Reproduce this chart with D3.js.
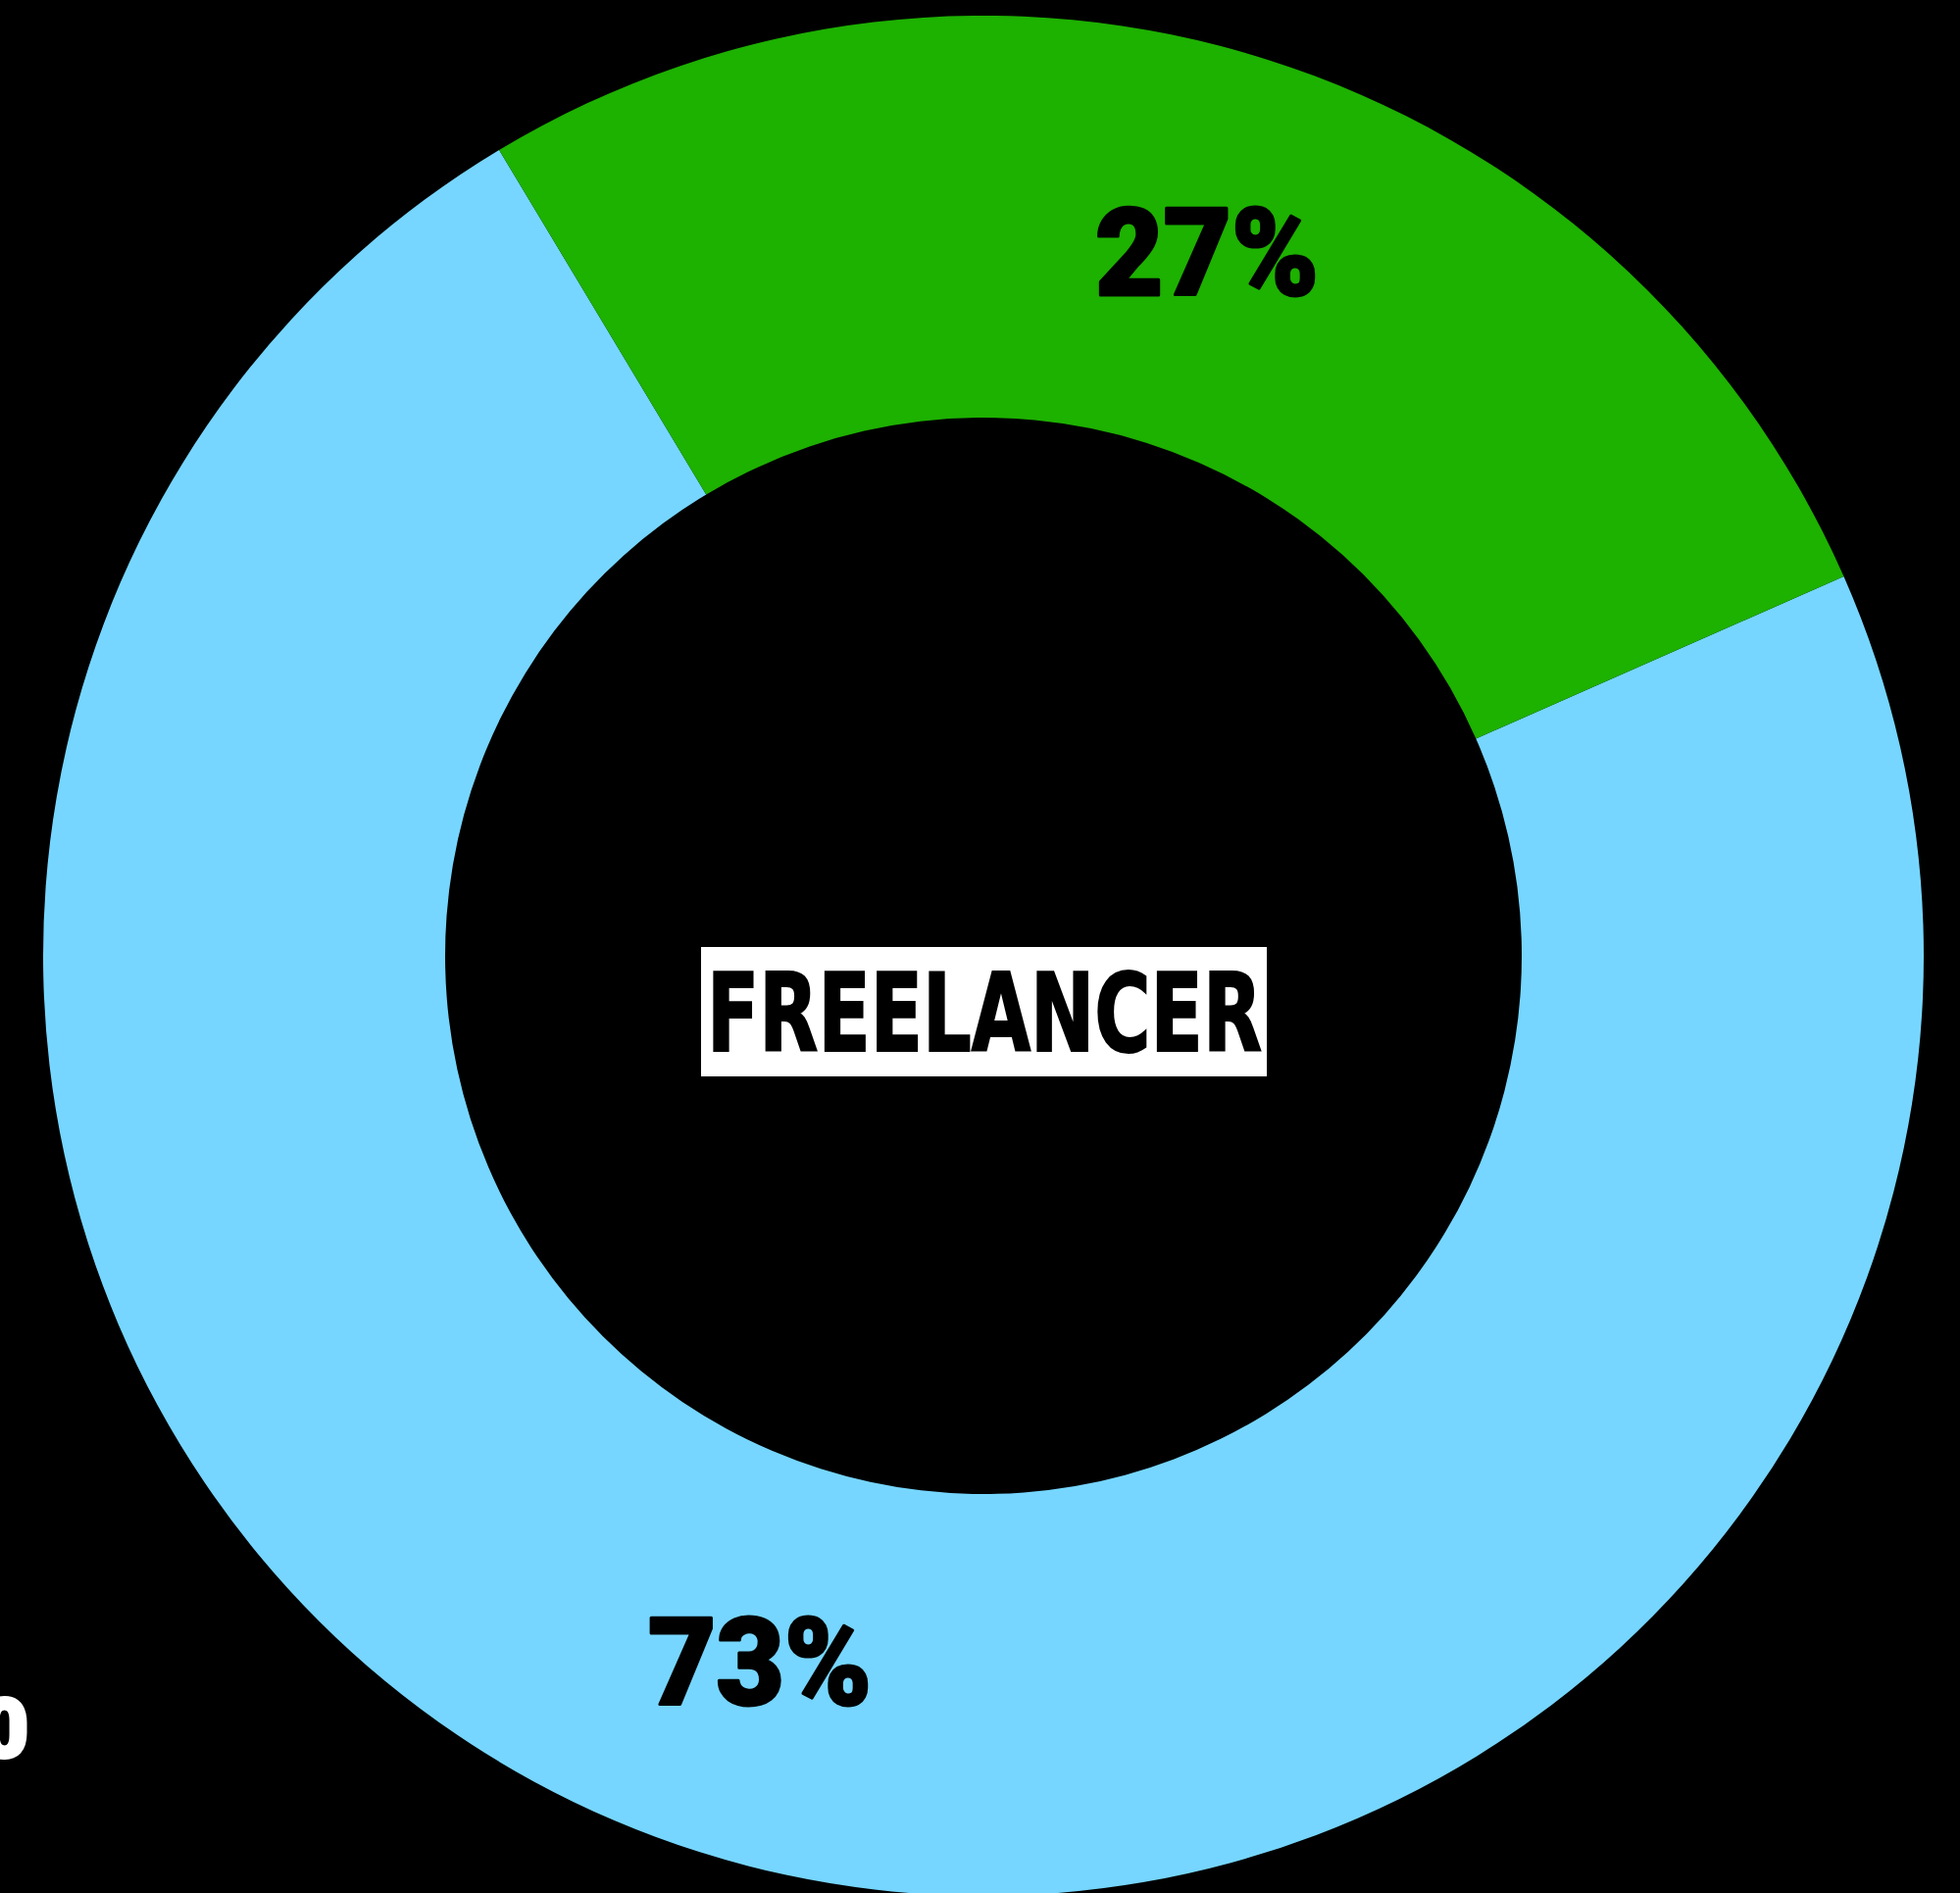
<!DOCTYPE html>
<html>
<head>
<meta charset="utf-8">
<script src="https://cdn.jsdelivr.net/npm/d3@7"></script>
<style>
  html, body { margin: 0; padding: 0; background: #000; }
  svg { display: block; }
</style>
</head>
<body>
<script>
// slices, in drawing order (clockwise from the start angle)
const slices = ["blue", "green"];
const values = [73, 27];
const labels = ["73%", "27%"];
const colors = ["#76d6ff", "#1db100"];
const title = "FREELANCER";

const width = 1999,
  height = 1931,
  cx = 1003,
  cy = 975,
  outerR = 959,
  innerR = 549;

const svg = d3.select("body").append("svg")
  .attr("width", width)
  .attr("height", height);

svg.append("rect")
  .attr("width", width)
  .attr("height", height)
  .attr("fill", "#000");

const pie = d3.pie()
  .sort(null)
  .startAngle(66.2 * Math.PI / 180)
  .endAngle(66.2 * Math.PI / 180 + 2 * Math.PI);

const arc = d3.arc().innerRadius(innerR).outerRadius(outerR);

const g = svg.append("g").attr("transform", `translate(${cx},${cy})`);

const arcs = pie(values);

g.selectAll("path")
  .data(arcs)
  .join("path")
  .attr("d", arc)
  .attr("fill", (d, i) => colors[i]);

g.selectAll("text.pct")
  .data(arcs)
  .join("text")
  .attr("class", "pct")
  .attr("x", d => arc.centroid(d)[0])
  .attr("y", d => arc.centroid(d)[1] + 45)
  .attr("text-anchor", "middle")
  .attr("font-family", "Roboto, 'DejaVu Sans', sans-serif")
  .attr("font-weight", 900)
  .attr("font-size", 124)
  .attr("textLength", 228)
  .attr("lengthAdjust", "spacingAndGlyphs")
  .attr("fill", "#000")
  .attr("stroke", "#000")
  .attr("stroke-width", 3)
  .attr("stroke-linejoin", "round")
  .text((d, i) => labels[i]);

// centre label
svg.append("rect")
  .attr("x", 715)
  .attr("y", 966)
  .attr("width", 577)
  .attr("height", 132)
  .attr("fill", "#fff");

svg.append("text")
  .attr("x", 721)
  .attr("y", 1072)
  .attr("font-family", "'Liberation Sans Narrow', 'DejaVu Sans Condensed', sans-serif")
  .attr("font-weight", "bold")
  .attr("font-size", 110)
  .attr("textLength", 566)
  .attr("lengthAdjust", "spacingAndGlyphs")
  .attr("fill", "#000")
  .attr("stroke", "#000")
  .attr("stroke-width", 2)
  .text(title);

// cut-off label from the neighbouring chart
svg.append("text")
  .attr("x", 29)
  .attr("y", 1792)
  .attr("text-anchor", "end")
  .attr("font-family", "Roboto, 'DejaVu Sans', sans-serif")
  .attr("font-weight", 900)
  .attr("font-size", 84)
  .attr("fill", "#fff")
  .attr("stroke", "#fff")
  .attr("stroke-width", 4)
  .text("0");
</script>
</body>
</html>
